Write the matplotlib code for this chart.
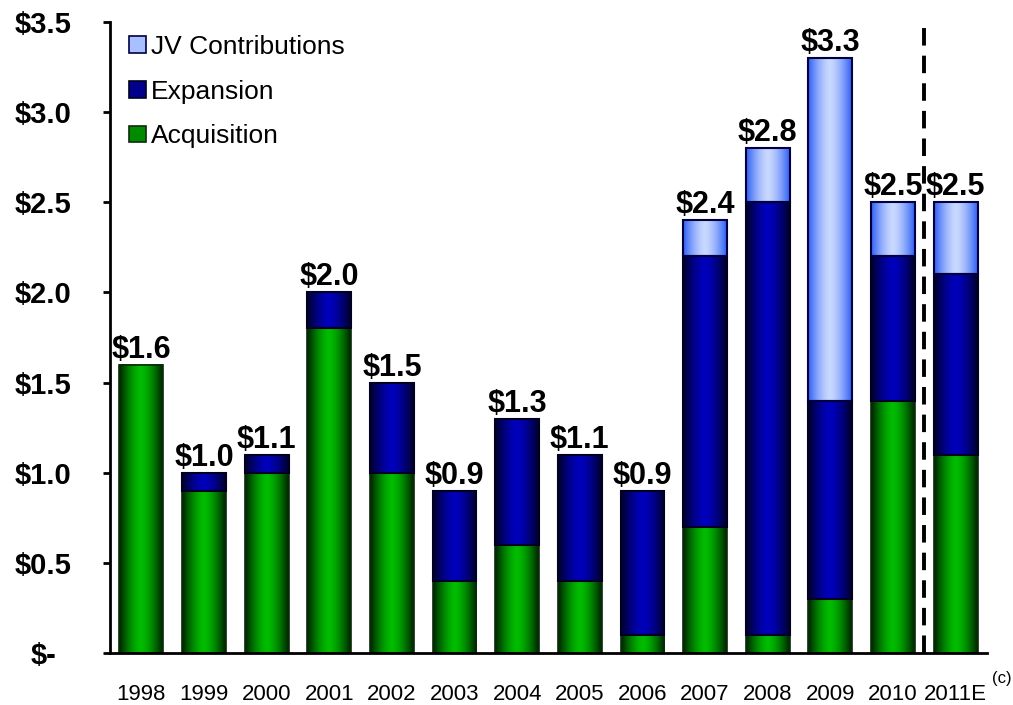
import numpy as np
import matplotlib
matplotlib.use('Agg')
import matplotlib.pyplot as plt
from matplotlib.colors import LinearSegmentedColormap
from matplotlib.patches import Patch

years = ['1998', '1999', '2000', '2001', '2002', '2003', '2004', '2005',
         '2006', '2007', '2008', '2009', '2010', '2011E']
acquisition = [1.6, 0.9, 1.0, 1.8, 1.0, 0.4, 0.6, 0.4, 0.1, 0.7, 0.1, 0.3, 1.4, 1.1]
expansion = [0.0, 0.1, 0.1, 0.2, 0.5, 0.5, 0.7, 0.7, 0.8, 1.5, 2.4, 1.1, 0.8, 1.0]
jv = [0.0, 0.0, 0.0, 0.0, 0.0, 0.0, 0.0, 0.0, 0.0, 0.2, 0.3, 1.9, 0.3, 0.4]
ytick_vals = [0, 0.5, 1.0, 1.5, 2.0, 2.5, 3.0, 3.5]
ytick_labels = ['$-', '$0.5', '$1.0', '$1.5', '$2.0', '$2.5', '$3.0', '$3.5']

# (edge colour, centre colour) for the cylinder-like shading
GREEN = ('#002400', '#00bc00')
NAVY = ('#000028', '#0000bc')
LIGHT = ('#3060f5', '#c8d8ff')
BAR_W = 0.7

SANS = ['Liberation Sans', 'DejaVu Sans']
BOLD = {'family': SANS, 'weight': 'bold'}


def shade(ax, bars, colors, edge):
    cmap = LinearSegmentedColormap.from_list('c', [colors[0], colors[1]])
    xs = np.linspace(0, 1, 64)
    grad = 1 - np.abs(2 * xs - 1) ** 1.5
    img = grad[np.newaxis, :]
    for b in bars:
        h = b.get_height()
        if h <= 0:
            b.set_visible(False)
            continue
        x0, y0, w = b.get_x(), b.get_y(), b.get_width()
        ax.imshow(img, extent=(x0, x0 + w, y0, y0 + h), aspect='auto',
                  cmap=cmap, vmin=0, vmax=1, zorder=2, interpolation='bilinear')
        b.set_facecolor('none')
        b.set_edgecolor(edge)
        b.set_zorder(3)


fig = plt.figure(figsize=(10.13, 7.05), dpi=100)
ax = fig.add_axes([0.1086, 0.0738, 0.8657, 0.895])

x = np.arange(len(years))
acq = np.array(acquisition)
exp_ = np.array(expansion)
jvs = np.array(jv)

b1 = ax.bar(x, acq, BAR_W, linewidth=1.2)
b2 = ax.bar(x, exp_, BAR_W, bottom=acq, linewidth=1.5)
b3 = ax.bar(x, jvs, BAR_W, bottom=acq + exp_, linewidth=1.5)
shade(ax, b1, GREEN, '#0b2a0b')
shade(ax, b2, NAVY, '#000020')
shade(ax, b3, LIGHT, '#000040')

totals = acq + exp_ + jvs
for xi, t in zip(x, totals):
    ax.annotate('$%.1f' % t, (xi, t), xytext=(0, 5), textcoords='offset points',
                ha='center', va='baseline', fontsize=22, zorder=5, **BOLD)

ax.axvline(12.5, color='black', lw=2.8, ls=(0, (4.5, 2.6)), zorder=4)

ax.set_xlim(-0.5, 13.5)
ax.set_ylim(0, 3.5)
ax.set_xticks(x)
ax.set_xticklabels(years, fontsize=16, family=SANS)
ax.set_yticks(ytick_vals)
ax.set_yticklabels(ytick_labels, ha='center', fontsize=21, **BOLD)
ax.tick_params(axis='y', length=5, width=2, pad=43)
ax.tick_params(axis='x', length=0, pad=22)
for s in ['top', 'right']:
    ax.spines[s].set_visible(False)
for s in ['left', 'bottom']:
    ax.spines[s].set_linewidth(2)
    ax.spines[s].set_zorder(6)

handles = [Patch(facecolor='#a8c0ff', edgecolor='#000040', lw=1.2),
           Patch(facecolor='#00008c', edgecolor='#000020', lw=1.2),
           Patch(facecolor='#008a00', edgecolor='#0b2a0b', lw=1.2)]
ax.legend(handles, ['JV Contributions', 'Expansion', 'Acquisition'],
          loc='upper left', bbox_to_anchor=(-0.006, 1.017), frameon=False,
          prop={'family': SANS, 'size': 19},
          handlelength=0.65, handleheight=0.6, handletextpad=0.2,
          labelspacing=0.78)

fig.text(1002 / 1013, 1 - 678 / 705, '(c)', fontsize=12, ha='center', va='center',
         family=SANS)

fig.savefig('out.png', dpi=100)
